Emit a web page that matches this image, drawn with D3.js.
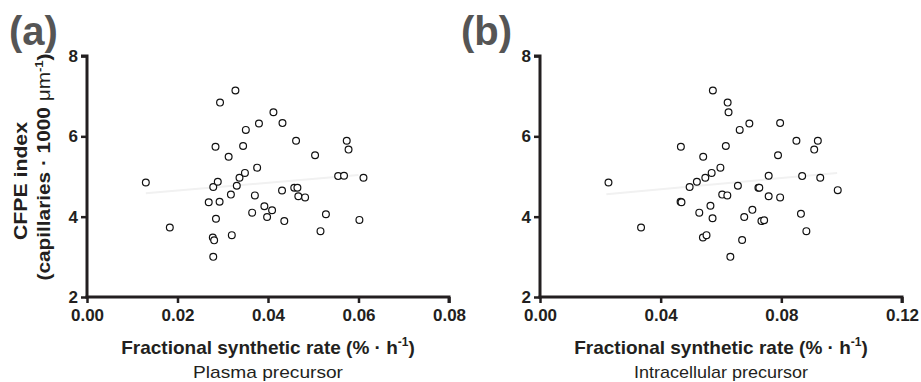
<!DOCTYPE html>
<html>
<head>
<meta charset="utf-8">
<script src="https://cdn.jsdelivr.net/npm/d3@7"></script>
<style>
  body { margin: 0; background: #fff; }
  svg { display: block; font-family: "Liberation Sans", Arial, sans-serif; }
  .axis path, .axis line { stroke: #231f20; }
  .axis text { font-weight: bold; fill: #231f20; font-size: 17px; }
</style>
</head>
<body>
<svg width="921" height="382"></svg>
<script>
// panel (a): plasma precursor
const fsrPlasma = [0.0130, 0.0183, 0.0269, 0.0279, 0.0289, 0.0284, 0.0294, 0.0293, 0.0285, 0.0278,
  0.0281, 0.0279, 0.0313, 0.0318, 0.0320, 0.0328, 0.0331, 0.0337, 0.0345, 0.0349,
  0.0351, 0.0371, 0.0365, 0.0376, 0.0380, 0.0392, 0.0398, 0.0409, 0.0412, 0.0431,
  0.0432, 0.0436, 0.0458, 0.0465, 0.0462, 0.0467, 0.0482, 0.0504, 0.0516, 0.0528,
  0.0555, 0.0568, 0.0574, 0.0578, 0.0611, 0.0602]
const cfpePlasma = [4.85, 3.73, 4.36, 4.74, 4.87, 5.74, 6.84, 4.37, 3.95, 3.48,
  3.41, 3.00, 5.49, 4.55, 3.54, 7.14, 4.77, 4.97, 5.76, 5.09,
  6.16, 4.53, 4.10, 5.22, 6.32, 4.26, 3.99, 4.16, 6.60, 4.65,
  6.33, 3.89, 4.72, 4.72, 5.89, 4.51, 4.48, 5.53, 3.64, 4.06,
  5.01, 5.02, 5.89, 5.67, 4.97, 3.92]

// panel (b): intracellular precursor
const fsrIntra = [0.0227, 0.0335, 0.0467, 0.0466, 0.0469, 0.0496, 0.0520, 0.0548, 0.0569, 0.0541,
  0.0598, 0.0616, 0.0573, 0.0622, 0.0625, 0.0662, 0.0694, 0.0656, 0.0604, 0.0621,
  0.0528, 0.0565, 0.0572, 0.0540, 0.0552, 0.0631, 0.0670, 0.0677, 0.0704, 0.0724,
  0.0727, 0.0734, 0.0743, 0.0758, 0.0758, 0.0796, 0.0789, 0.0796, 0.0850, 0.0865,
  0.0869, 0.0883, 0.0909, 0.0921, 0.0929, 0.0987]
const cfpeIntra = [4.85, 3.73, 5.74, 4.37, 4.36, 4.74, 4.87, 4.97, 5.09, 5.49,
  5.22, 5.76, 7.14, 6.84, 6.60, 6.16, 6.32, 4.77, 4.55, 4.53,
  4.10, 4.27, 3.96, 3.48, 3.54, 3.00, 3.42, 3.99, 4.17, 4.72,
  4.72, 3.89, 3.91, 4.51, 5.02, 4.48, 5.53, 6.33, 5.89, 4.07,
  5.01, 3.64, 5.67, 5.89, 4.97, 4.66]

// faint fit lines (endpoints)
const fitPlasmaX = [0.013, 0.060], fitPlasmaY = [4.58, 5.04]
const fitIntraX = [0.022, 0.0985], fitIntraY = [4.56, 5.09]

const yTicks = [2, 4, 6, 8]
const xTicksPlasma = [0, 0.02, 0.04, 0.06, 0.08]
const xTicksIntra = [0, 0.04, 0.08, 0.12]

const svg = d3.select('svg')
const plotTop = 56, plotBottom = 297

const drawPanel = (opts) => {
  const { left, right, xMax, xTicks, xs, ys, fitX, fitY, letter, sub, subLen } = opts
  const x = d3.scaleLinear().domain([0, xMax]).range([left, right])
  const y = d3.scaleLinear().domain([2, 8]).range([plotBottom, plotTop])
  const g = svg.append('g')

  // fit line, nearly invisible in the original
  g.append('line')
    .attr('x1', x(fitX[0])).attr('y1', y(fitY[0]))
    .attr('x2', x(fitX[1])).attr('y2', y(fitY[1]))
    .attr('stroke', '#f1f1f1').attr('stroke-width', 2)

  const xa = g.append('g').attr('class', 'axis')
    .attr('transform', `translate(0,${plotBottom})`)
    .call(d3.axisBottom(x).tickValues(xTicks).tickFormat(d3.format('.2f')).tickSize(6).tickPadding(6))
  const ya = g.append('g').attr('class', 'axis')
    .attr('transform', `translate(${left},0)`)
    .call(d3.axisLeft(y).tickValues(yTicks).tickFormat(d3.format('d')).tickSize(6).tickPadding(3))
  for (const a of [xa, ya]) {
    a.select('.domain').attr('stroke-width', 3)
    a.selectAll('line').attr('stroke-width', 2.5)
  }
  // square off the domain path ends
  xa.select('.domain').attr('d', `M${left - 1.5},0H${right}V6`)
  ya.select('.domain').attr('d', `M-6,${plotTop}H0V${plotBottom + 1.5}`)

  g.selectAll('circle.pt')
    .data(xs)
    .join('circle')
    .attr('class', 'pt')
    .attr('cx', d => x(d))
    .attr('cy', (d, i) => y(ys[i]))
    .attr('r', 3.4)
    .attr('fill', '#fff')
    .attr('stroke', '#111')
    .attr('stroke-width', 1.2)

  const cx = (left + right) / 2
  const title = g.append('text')
    .attr('x', cx).attr('y', 354)
    .attr('text-anchor', 'middle')
    .attr('font-size', 19).attr('font-weight', 'bold').attr('fill', '#231f20')
  title.append('tspan').text('Fractional synthetic rate (% · h')
  title.append('tspan').attr('font-size', 12).attr('dy', -8).text('-1')
  title.append('tspan').attr('dy', 8).text(')')

  g.append('text')
    .attr('x', cx).attr('y', 377.5)
    .attr('text-anchor', 'middle')
    .attr('font-size', 17).attr('fill', '#231f20')
    .attr('textLength', subLen).attr('lengthAdjust', 'spacingAndGlyphs')
    .text(sub)

  g.append('text')
    .attr('x', letter[0]).attr('y', letter[1])
    .attr('font-size', 40).attr('font-weight', 'bold').attr('fill', '#555')
    .text(letter[2])
}

drawPanel({ left: 87, right: 449, xMax: 0.08, xTicks: xTicksPlasma, xs: fsrPlasma, ys: cfpePlasma,
  fitX: fitPlasmaX, fitY: fitPlasmaY, letter: [9, 45, '(a)'], sub: 'Plasma precursor', subLen: 150 })
drawPanel({ left: 540, right: 902, xMax: 0.12, xTicks: xTicksIntra, xs: fsrIntra, ys: cfpeIntra,
  fitX: fitIntraX, fitY: fitIntraY, letter: [461, 45, '(b)'], sub: 'Intracellular precursor', subLen: 174 })

// y axis label
const yl = svg.append('g').attr('transform', 'rotate(-90)')
  .attr('font-weight', 'bold').attr('fill', '#231f20').attr('text-anchor', 'middle')
yl.append('text').attr('x', -181).attr('y', 26.5).attr('font-size', 17.5)
  .attr('textLength', 118).attr('lengthAdjust', 'spacingAndGlyphs')
  .text('CFPE index')
const yl2 = yl.append('text').attr('x', -167).attr('y', 50).attr('font-size', 17.5)
  .attr('textLength', 227).attr('lengthAdjust', 'spacingAndGlyphs')
yl2.append('tspan').text('(capillaries · 1000 ')
yl2.append('tspan').attr('font-weight', 'normal').text('μm')
yl2.append('tspan').attr('font-size', 11).attr('dy', -7).text('-1')
yl2.append('tspan').attr('dy', 7).text(')')
</script>
</body>
</html>
